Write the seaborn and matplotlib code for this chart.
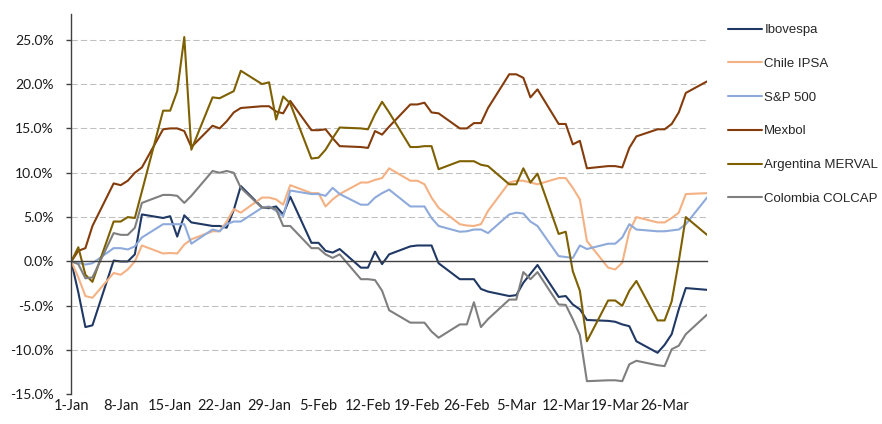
import matplotlib
matplotlib.use("Agg")
import matplotlib.pyplot as plt
import matplotlib.dates as mdates
from matplotlib.ticker import FuncFormatter, MultipleLocator
import numpy as np
import pandas as pd
import seaborn as sns

# business days 1-Jan .. 1-Apr
dates = pd.bdate_range("2019-01-01", "2019-04-01")

ibovespa = [0, -3.5, -7.4, -7.2,
            0.1, 0.0, 0.0, 0.8, 5.3,
            4.9, 5.1, 2.8, 5.2, 4.4,
            4.0, 4.0, 3.8, 5.8, 8.5,
            6.1, 6.0, 6.2, 5.3, 7.3,
            2.1, 2.1, 1.2, 1.0, 1.4,
            -0.7, -0.7, 1.1, -0.3, 0.8,
            1.7, 1.8, 1.8, 1.8, -0.2,
            -2.0, -2.0, -2.0, -3.1, -3.4,
            -3.9, -3.8, -2.4, -1.4, -0.4,
            -4.0, -3.9, -4.85, -5.4, -6.6,
            -6.7, -6.8, -7.1, -7.3, -9.0,
            -10.3, -9.4, -8.2, -5.4, -3.0,
            -3.2]
chile_ipsa = [0, -1.8, -3.9, -4.1,
              -1.3, -1.5, -0.9, 0.0, 1.8,
              0.9, 0.95, 0.9, 1.9, 2.5,
              3.4, 3.4, 4.5, 5.9, 5.5,
              7.2, 7.2, 7.0, 6.4, 8.6,
              7.7, 7.7, 6.2, 7.0, 7.6,
              8.9, 8.9, 9.2, 9.4, 10.5,
              9.1, 9.1, 8.7, 7.2, 6.05,
              4.2, 4.05, 4.0, 4.2, 5.7,
              8.9, 9.1, 9.1, 8.9, 8.7,
              9.4, 9.4, 8.3, 7.0, 2.3,
              -0.7, -0.9, -0.15, 3.4, 5.0,
              4.4, 4.4, 4.9, 5.5, 7.6,
              7.7]
sp500 = [0, -0.15, -0.35, -0.2,
         1.5, 1.5, 1.35, 1.7, 2.7,
         4.2, 4.2, 4.2, 4.2, 2.0,
         3.6, 3.4, 4.2, 4.5, 4.5,
         6.05, 6.2, 5.7, 5.1, 8.0,
         7.6, 7.6, 7.4, 8.3, 7.6,
         6.4, 6.4, 7.2, 7.7, 8.1,
         6.2, 6.2, 6.2, 4.9, 4.0,
         3.35, 3.4, 3.6, 3.6, 3.2,
         5.3, 5.5, 5.4, 4.5, 4.0,
         0.6, 0.5, 0.4, 1.8, 1.4,
         2.0, 2.0, 2.7, 4.2, 3.6,
         3.4, 3.4, 3.5, 3.6, 4.2,
         7.2]
mexbol = [0, 1.2, 1.5, 4.0,
          8.8, 8.6, 9.1, 10.0, 10.6,
          14.9, 15.0, 15.0, 14.7, 12.9,
          15.3, 15.0, 15.8, 16.8, 17.3,
          17.5, 17.5, 16.9, 16.7, 18.1,
          14.8, 14.8, 14.9, 13.9, 13.0,
          12.9, 12.8, 14.7, 14.3, 15.2,
          17.7, 17.7, 17.9, 16.8, 16.7,
          15.0, 15.0, 15.6, 15.6, 17.3,
          21.1, 21.1, 20.7, 18.5, 19.4,
          15.5, 15.5, 13.2, 13.6, 10.5,
          10.75, 10.75, 10.6, 12.8, 14.1,
          14.9, 14.9, 15.5, 16.8, 19.0,
          20.3]
merval = [0, 1.6, -1.5, -2.3,
          4.5, 4.5, 5.0, 4.9, 7.9,
          17.0, 17.0, 19.2, 25.3, 12.6,
          18.5, 18.4, 18.8, 19.2, 21.5,
          20.0, 20.2, 16.0, 18.6, 17.8,
          11.6, 11.7, 12.6, 13.9, 15.1,
          15.0, 14.9, 16.6, 18.0, 16.8,
          12.9, 12.9, 13.0, 13.0, 10.4,
          11.3, 11.3, 11.3, 10.9, 10.75,
          8.7, 8.7, 10.5, 8.9, 9.9,
          3.1, 3.35, -1.1, -3.3, -9.0,
          -4.4, -4.4, -5.0, -3.3, -2.2,
          -6.65, -6.65, -4.5, 0.0, 5.0,
          3.0]
colcap = [0, -0.3, -1.9, -1.8,
          3.2, 3.0, 3.0, 3.8, 6.6,
          7.5, 7.5, 7.4, 6.6, 7.4,
          10.2, 10.0, 10.2, 10.0, 8.3,
          6.05, 6.1, 5.9, 4.0, 4.0,
          1.5, 1.5, 0.8, 0.4, 0.8,
          -2.0, -2.0, -2.1, -3.3, -5.5,
          -6.9, -6.9, -6.9, -7.9, -8.6,
          -7.1, -7.1, -4.6, -7.4, -6.5,
          -4.3, -4.3, -1.2, -2.0, -1.2,
          -4.85, -4.9, -6.5, -8.3, -13.5,
          -13.4, -13.4, -13.5, -11.6, -11.2,
          -11.7, -11.8, -9.9, -9.5, -8.2,
          -6.0]

names = ["Ibovespa", "Chile IPSA", "S&P 500", "Mexbol",
         "Argentina MERVAL", "Colombia COLCAP"]
colors = ["#203864", "#f4b183", "#8eaadb", "#843c0c", "#7f6000", "#7f7f7f"]
values = [ibovespa, chile_ipsa, sp500, mexbol, merval, colcap]

df = pd.concat([pd.DataFrame({"date": dates, "value": v, "index": n})
                for n, v in zip(names, values)])

sns.set_style("white")
plt.rcParams["font.family"] = ["Lato", "DejaVu Sans"]

fig = plt.figure(figsize=(8.82, 4.24), dpi=100)
ax_h = 0.8974
ax = fig.add_axes([0.0808, 0.0696, 0.7208, ax_h])

ax.grid(axis="y", color="#bfbfbf", linestyle=(0, (6, 3)), linewidth=0.75)
ax.set_axisbelow(True)

sns.lineplot(data=df, x="date", y="value", hue="index", palette=dict(zip(names, colors)),
             linewidth=1.5, ax=ax, legend=False)

ymin, ymax = -15, 27.9
ax.set_ylim(ymin, ymax)
ax.set_xlim(dates[0], dates[-1])
ax.yaxis.set_major_locator(MultipleLocator(5))
ax.yaxis.set_major_formatter(FuncFormatter(lambda v, p: f"{v:.1f}%"))

tick_dates = pd.date_range("2019-01-01", "2019-03-26", freq="7D")
ax.set_xticks(mdates.date2num(tick_dates))
ax.set_xticklabels([f"{d.day}-{d.strftime('%b')}" for d in tick_dates])
ax.set_xlabel("")
ax.set_ylabel("")

for s in ["top", "right"]:
    ax.spines[s].set_visible(False)
for s in ["left", "bottom"]:
    ax.spines[s].set_color("#404040")
    ax.spines[s].set_linewidth(1)
# horizontal axis sits on the 0% line, labels stay at the bottom of the plot
ax.spines["bottom"].set_position(("data", 0))
zero_drop_pt = (0 - ymin) / (ymax - ymin) * ax_h * 4.24 * 72
tick_len = 3.8

ax.tick_params(axis="x", direction="out", length=tick_len, width=1, color="#404040",
               pad=zero_drop_pt - tick_len + 3.5, labelsize=10.5, labelcolor="#1a1a1a")
ax.tick_params(axis="y", direction="out", length=3.6, width=1, color="#404040",
               pad=9, labelsize=10, labelcolor="#1a1a1a", left=True)

handles = [plt.Line2D([], [], color=c, lw=1.5) for c in colors]
fig.legend(handles, names, loc="upper left", bbox_to_anchor=(0.818, 0.959),
           frameon=False, borderpad=0, handlelength=2.6, handletextpad=0.15,
           labelspacing=1.63, prop={"family": "Liberation Sans", "size": 9.5})

fig.savefig("out.png", dpi=100)
